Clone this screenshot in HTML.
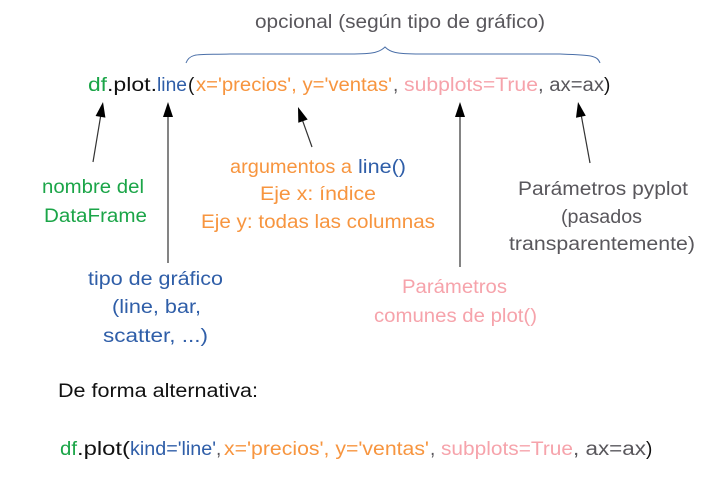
<!DOCTYPE html>
<html><head><meta charset="utf-8"><style>
html,body{margin:0;padding:0;background:#fff;}
svg{display:block;}
text{font-family:"Comic Sans MS","Liberation Sans",sans-serif;font-size:19px;}
.g{fill:#1ba548}.b{fill:#2f5ea8}.o{fill:#f7953f}.p{fill:#f6a3ab}.k{fill:#111}.y{fill:#59575c}
</style></head><body>
<svg width="708" height="492" viewBox="0 0 708 492" xmlns="http://www.w3.org/2000/svg">
<text x="255" y="28" class="y" textLength="290" lengthAdjust="spacingAndGlyphs">opcional (según tipo de gráfico)</text>
<path d="M186,63 C190,52 200,55 230,54 L350,54 C375,54 380,52 385,47 C390,52 395,54 420,54 L560,54 C590,55 597,55 600,63" fill="none" stroke="#4a6fa8" stroke-width="1"/>
<text x="88" y="91" class="g" textLength="19" lengthAdjust="spacingAndGlyphs">df</text>
<text x="107" y="91" class="k" textLength="50" lengthAdjust="spacingAndGlyphs">.plot.</text>
<text x="157" y="91" class="b" textLength="30" lengthAdjust="spacingAndGlyphs">line</text>
<text x="188" y="91" class="k">(</text>
<text x="196" y="91" class="o" textLength="196" lengthAdjust="spacingAndGlyphs">x='precios', y='ventas'</text>
<text x="393" y="91" class="y">,</text>
<text x="404" y="91" class="p" textLength="134" lengthAdjust="spacingAndGlyphs">subplots=True</text>
<text x="538" y="91" class="y" textLength="66" lengthAdjust="spacingAndGlyphs">, ax=ax</text>
<text x="604" y="91" class="k">)</text>
<g stroke="#333" stroke-width="1.2">
<line x1="93" y1="162" x2="101" y2="114"/>
<line x1="168" y1="263" x2="168" y2="114"/>
<line x1="312" y1="147" x2="302" y2="119"/>
<line x1="460" y1="267" x2="460" y2="114"/>
<line x1="590" y1="163" x2="581" y2="114"/>
</g>
<g fill="#000">
<polygon points="103,102 105.4,117.6 95.6,116"/>
<polygon points="168,102 163,117 173,117"/>
<polygon points="298,107 307.7,119.5 298.3,122.8"/>
<polygon points="460,102 455,117 465,117"/>
<polygon points="578,102 585.8,115.7 576,117.7"/>
</g>
<text x="42" y="193" class="g" textLength="102" lengthAdjust="spacingAndGlyphs">nombre del</text>
<text x="44" y="222" class="g" textLength="103" lengthAdjust="spacingAndGlyphs">DataFrame</text>
<text x="230" y="173" class="o" textLength="122" lengthAdjust="spacingAndGlyphs">argumentos a</text>
<text x="358" y="173" class="b" textLength="48" lengthAdjust="spacingAndGlyphs">line()</text>
<text x="260" y="200" class="o" textLength="116" lengthAdjust="spacingAndGlyphs">Eje x: índice</text>
<text x="201" y="228" class="o" textLength="234" lengthAdjust="spacingAndGlyphs">Eje y: todas las columnas</text>
<text x="518" y="195" class="y" textLength="170" lengthAdjust="spacingAndGlyphs">Parámetros pyplot</text>
<text x="561" y="223" class="y" textLength="81" lengthAdjust="spacingAndGlyphs">(pasados</text>
<text x="509" y="250" class="y" textLength="186" lengthAdjust="spacingAndGlyphs">transparentemente)</text>
<text x="88" y="285" class="b" textLength="135" lengthAdjust="spacingAndGlyphs">tipo de gráfico</text>
<text x="112" y="313" class="b" textLength="89" lengthAdjust="spacingAndGlyphs">(line, bar,</text>
<text x="103" y="342" class="b" textLength="105" lengthAdjust="spacingAndGlyphs">scatter, ...)</text>
<text x="402" y="293" class="p" textLength="105" lengthAdjust="spacingAndGlyphs">Parámetros</text>
<text x="374" y="322" class="p" textLength="163" lengthAdjust="spacingAndGlyphs">comunes de plot()</text>
<text x="58" y="397" class="k" textLength="200" lengthAdjust="spacingAndGlyphs">De forma alternativa:</text>
<text x="60" y="455" class="g" textLength="17" lengthAdjust="spacingAndGlyphs">df</text>
<text x="77" y="455" class="k" textLength="53" lengthAdjust="spacingAndGlyphs">.plot(</text>
<text x="130" y="455" class="b" textLength="86" lengthAdjust="spacingAndGlyphs">kind='line'</text>
<text x="216" y="455" class="y">,</text>
<text x="224" y="455" class="o" textLength="205" lengthAdjust="spacingAndGlyphs">x='precios', y='ventas'</text>
<text x="430" y="455" class="y">,</text>
<text x="441" y="455" class="p" textLength="132" lengthAdjust="spacingAndGlyphs">subplots=True</text>
<text x="573" y="455" class="y" textLength="73" lengthAdjust="spacingAndGlyphs">, ax=ax</text>
<text x="646" y="455" class="k">)</text>
</svg>
</body></html>
